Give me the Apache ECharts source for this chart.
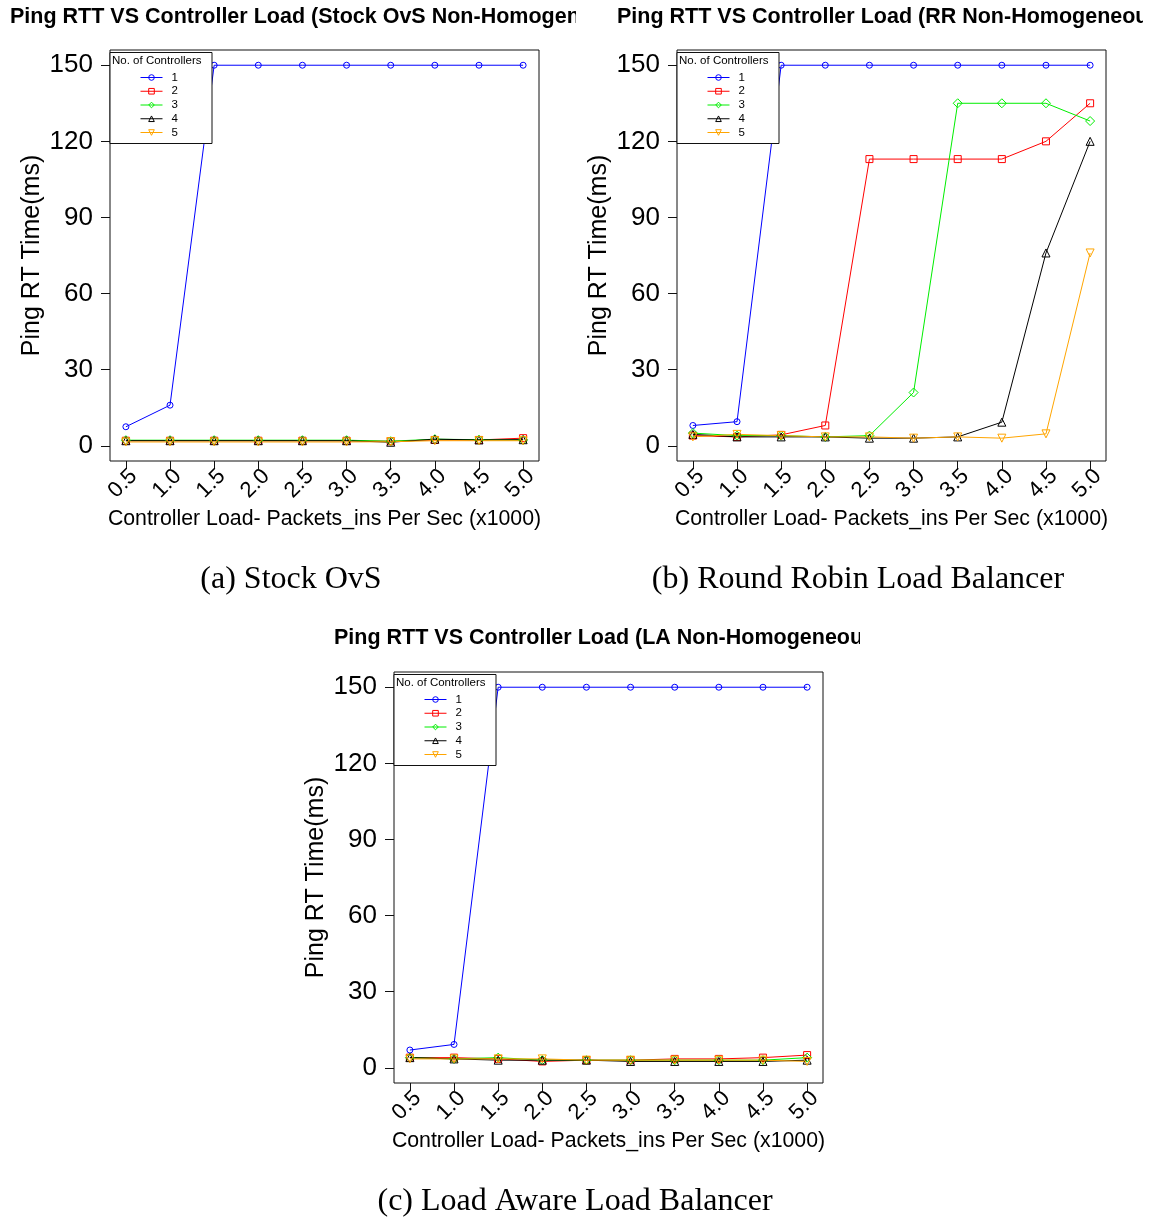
<!DOCTYPE html>
<html>
<head>
<meta charset="utf-8">
<script src="https://cdn.jsdelivr.net/npm/echarts@6/dist/echarts.min.js"></script>
<style>
  html, body { margin: 0; background: #fff; }
  #main { width: 1152px; height: 1219px; }
</style>
</head>
<body>
<div id="main"></div>
<script>
var loads = [0.5, 1.0, 1.5, 2.0, 2.5, 3.0, 3.5, 4.0, 4.5, 5.0]
var yTicks = [0, 30, 60, 90, 120, 150]
var controllers = ['1', '2', '3', '4', '5']

// Ping RTT (ms), one row per number of controllers
var stockRtt = [
  [7.5, 16, 150, 150, 150, 150, 150, 150, 150, 150],
  [2, 2, 2, 2, 2, 2, 1.8, 2.3, 2.3, 3],
  [2.2, 2.2, 2.2, 2.2, 2.2, 2.2, 1.8, 2.6, 2.4, 2.3],
  [2, 2, 2, 2, 2, 2, 1.4, 2.6, 2.3, 2.4],
  [1.5, 1.5, 1.5, 1.5, 1.5, 1.5, 1.6, 2, 2, 2]
]
var rrRtt = [
  [8, 9.5, 150, 150, 150, 150, 150, 150, 150, 150],
  [4, 3.5, 4.3, 8, 113, 113, 113, 113, 120, 135],
  [5, 4, 4, 3.5, 4, 21, 135, 135, 135, 128],
  [4.5, 3.5, 3.5, 3.5, 3, 3, 3.5, 9.3, 76, 120],
  [3.5, 4.5, 4, 3.5, 3.5, 3, 3.5, 3, 4.7, 76]
]
var laRtt = [
  [7, 9.2, 150, 150, 150, 150, 150, 150, 150, 150],
  [4, 4, 3.5, 2.5, 3, 3, 3.5, 3.5, 4, 5],
  [4, 3.5, 4, 3, 3, 3, 3, 3, 3, 4],
  [4, 3.5, 3, 3, 3, 2.5, 2.5, 2.5, 2.5, 3],
  [3.5, 3.5, 3.5, 3.5, 3, 3, 3, 3, 3, 2.5]
]

var titles = [
  'Ping RTT VS Controller Load (Stock OvS Non-Homogeneous)',
  'Ping RTT VS Controller Load (RR Non-Homogeneous)',
  'Ping RTT VS Controller Load (LA Non-Homogeneous)'
]
var captions = ['(a) Stock OvS', '(b) Round Robin Load Balancer', '(c) Load Aware Load Balancer']
var xTitle = 'Controller Load- Packets_ins Per Sec (x1000)'
var yTitle = 'Ping RT Time(ms)'

var colors = ['#0000ff', '#ff0000', '#00ee00', '#000000', '#ffa500']
var symbols = ['circle', 'rect', 'diamond', 'triangle', 'triangle']
var symbolRotates = [0, 0, 0, 0, 180]
var symbolSizes = [6, 7, 9, 8, 8]

var fontSans = '"Liberation Sans", Arial, sans-serif'
var fontSerif = '"Liberation Serif", "Times New Roman", serif'

// plot boxes: left, top of each panel
var panels = [
  { left: 110, top: 50, data: stockRtt },
  { left: 677, top: 50, data: rrRtt },
  { left: 394, top: 672, data: laRtt }
]
var boxW = 429
var boxH = 411

var chart = echarts.init(document.getElementById('main'))

var grids = []
var xAxes = []
var yAxes = []
var series = []
var legends = []
var graphics = []

panels.forEach(function(p, i) {
  grids.push({
    left: p.left, top: p.top, width: boxW, height: boxH,
    show: true, borderColor: '#111', borderWidth: 1, backgroundColor: '#fff'
  })
  xAxes.push({
    gridIndex: i,
    type: 'value',
    min: 0.32,
    max: 5.18,
    axisLine: { show: false, onZero: false },
    splitLine: { show: false },
    axisTick: { show: true, length: 8, customValues: loads, lineStyle: { color: '#111' } },
    axisLabel: {
      customValues: loads,
      rotate: 45,
      margin: 4,
      fontSize: 22,
      color: '#000',
      fontFamily: fontSans,
      verticalAlign: 'top',
      formatter: function(v) { return v.toFixed(1) }
    },
    name: xTitle,
    nameLocation: 'middle',
    nameGap: 48,
    nameMoveOverlap: false,
    nameTextStyle: { fontSize: 21.3, color: '#000', fontFamily: fontSans }
  })
  yAxes.push({
    gridIndex: i,
    type: 'value',
    min: -6,
    max: 156,
    axisLine: { show: false, onZero: false },
    splitLine: { show: false },
    axisTick: { show: true, length: 9, customValues: yTicks, lineStyle: { color: '#111' } },
    axisLabel: {
      customValues: yTicks,
      margin: 17,
      fontSize: 26,
      color: '#000',
      fontFamily: fontSans,
      padding: [4, 0, 0, 0]
    },
    name: yTitle,
    nameLocation: 'middle',
    nameGap: 65,
    nameMoveOverlap: false,
    nameTextStyle: { fontSize: 25, color: '#000', fontFamily: fontSans }
  })
  p.data.forEach(function(row, k) {
    series.push({
      name: controllers[k],
      type: 'line',
      xAxisIndex: i,
      yAxisIndex: i,
      data: loads.map(function(x, j) { return [x, row[j]] }),
      symbol: symbols[k],
      symbolRotate: symbolRotates[k],
      symbolSize: symbolSizes[k],
      showAllSymbol: true,
      lineStyle: { color: colors[k], width: 1 },
      itemStyle: { color: 'rgba(0,0,0,0)', borderColor: colors[k], borderWidth: 1 },
      emphasis: { disabled: true },
      animation: false
    })
  })

  // legend box + heading
  graphics.push({
    type: 'rect',
    z: 10,
    shape: { x: p.left, y: p.top + 2.5, width: 102, height: 91 },
    style: { fill: '#fff', stroke: '#111', lineWidth: 1 }
  })
  graphics.push({
    type: 'text',
    z: 12,
    style: {
      text: 'No. of Controllers', x: p.left + 2, y: p.top + 10.5,
      font: '11.5px ' + fontSans, fill: '#000', verticalAlign: 'middle'
    }
  })
  legends.push({
    data: controllers,
    orient: 'vertical',
    left: p.left + 30,
    top: p.top + 21,
    z: 12,
    padding: 0,
    itemWidth: 22,
    itemHeight: 7,
    itemGap: 0.75,
    selectedMode: false,
    itemStyle: { borderWidth: 1 },
    lineStyle: { width: 1 },
    textStyle: { fontSize: 11.5, lineHeight: 13, color: '#000', fontFamily: fontSans, padding: [0, 0, 0, 4] }
  })
})

// panel titles, cut off at the right edge of each plot device like the original;
// each title is drawn above the previous one's white mask
var titlePos = [[10, 17, 576, 700], [617, 17, 1143, 1152], [334, 638, 860, 960]]
titlePos.forEach(function(t, i) {
  graphics.push({
    type: 'text',
    z: 20 + 2 * i,
    style: {
      text: titles[i], x: t[0], y: t[1],
      font: 'bold 21.5px ' + fontSans, fill: '#000', verticalAlign: 'middle'
    }
  })
  graphics.push({
    type: 'rect',
    z: 21 + 2 * i,
    shape: { x: t[2], y: t[1] - 16, width: t[3] - t[2], height: 32 },
    style: { fill: '#fff' }
  })
})

var captionPos = [[291, 580], [858, 580], [575, 1202]]
captionPos.forEach(function(c, i) {
  graphics.push({
    type: 'text',
    z: 30,
    style: {
      text: captions[i], x: c[0], y: c[1],
      font: '32px ' + fontSerif, fill: '#000', align: 'center', verticalAlign: 'middle'
    }
  })
})

chart.setOption({
  backgroundColor: '#fff',
  animation: false,
  grid: grids,
  xAxis: xAxes,
  yAxis: yAxes,
  legend: legends,
  series: series,
  graphic: graphics
})
</script>
</body>
</html>
